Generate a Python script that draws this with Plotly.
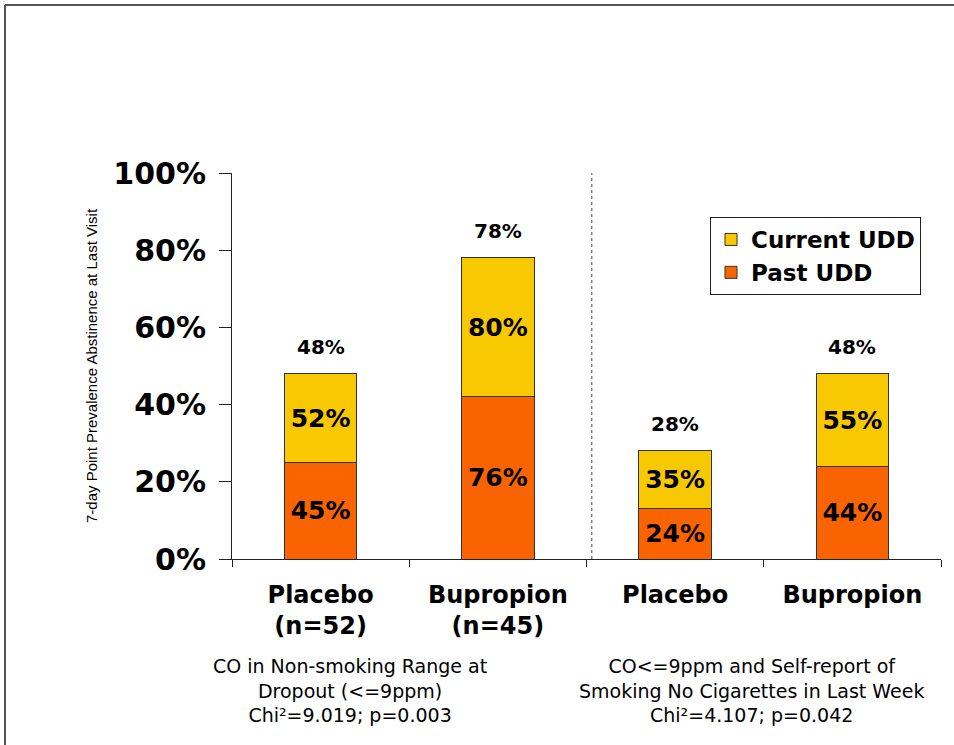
import plotly.graph_objects as go

# ---------------- data ----------------
categories = ["Placebo<br>(n=52)", "Bupropion<br>(n=45)", "Placebo", "Bupropion"]
past_udd = [25, 42, 13, 24]          # bottom (orange) segment height, %
current_udd = [23, 36, 15, 24]       # top (yellow) segment height, %
past_labels = ["45%", "76%", "24%", "44%"]
current_labels = ["52%", "80%", "35%", "55%"]
total_labels = ["48%", "78%", "28%", "48%"]
y_tick_vals = [0, 20, 40, 60, 80, 100]
y_tick_text = ["0%", "20%", "40%", "60%", "80%", "100%"]
group_notes = [
    "CO in Non-smoking Range at<br>Dropout (&lt;=9ppm)<br>Chi²=9.019; p=0.003",
    "CO&lt;=9ppm and Self-report of<br>Smoking No Cigarettes in Last Week<br>Chi²=4.107; p=0.042",
]
series_names = ["Past UDD", "Current UDD"]

# ---------------- style ----------------
W, H = 954, 745
L, R, T, B = 232, 941, 173, 559   # plot area in px
ORANGE = "#FA6400"
YELLOW = "#F8C800"
BOLD = "DejaVu Sans"


def px_x(px):
    return (px - L) / (R - L)


def px_y(py):
    return (B - py) / (B - T)


fig = go.Figure()
fig.add_trace(go.Bar(
    x=categories, y=past_udd, name=series_names[0],
    marker=dict(color=ORANGE, line=dict(color="#333333", width=1)),
    width=0.41, text=past_labels, textposition="inside",
    insidetextanchor="middle", textangle=0,
    textfont=dict(family=BOLD, size=25, color="black", weight="bold"),
    hoverinfo="skip",
))
fig.add_trace(go.Bar(
    x=categories, y=current_udd, name=series_names[1],
    marker=dict(color=YELLOW, line=dict(color="#333333", width=1)),
    width=0.41, text=current_labels, textposition="inside",
    insidetextanchor="middle", textangle=0,
    textfont=dict(family=BOLD, size=25, color="black", weight="bold"),
    hoverinfo="skip",
))

# totals above the bars
for cat, p, c, lab in zip(categories, past_udd, current_udd, total_labels):
    fig.add_annotation(x=cat, y=p + c, text=lab, showarrow=False,
                       yanchor="bottom", yshift=13,
                       font=dict(family=BOLD, size=20, color="black", weight="bold"))

# group notes under the axis
note_x = [px_x(350), px_x(751)]
for nx, note in zip(note_x, group_notes):
    fig.add_annotation(x=nx, y=px_y(690), xref="paper", yref="paper",
                       text=note, showarrow=False, xanchor="center", yanchor="middle",
                       align="center",
                       font=dict(family="DejaVu Sans", size=19, color="black"))

# dotted separator
fig.add_shape(type="line", xref="x", yref="y", x0=1.53, x1=1.53, y0=0, y1=100,
              line=dict(color="#444444", width=1, dash="dot"))

# outer frame (top and left edges)
fig.add_shape(type="line", xref="paper", yref="paper",
              x0=px_x(5), x1=px_x(960), y0=px_y(5), y1=px_y(5),
              line=dict(color="#555555", width=2))
fig.add_shape(type="line", xref="paper", yref="paper",
              x0=px_x(5), x1=px_x(5), y0=px_y(5), y1=px_y(760),
              line=dict(color="#555555", width=2))

fig.update_layout(
    width=W, height=H,
    margin=dict(l=L, r=W - R, t=T, b=H - B, pad=0),
    paper_bgcolor="white", plot_bgcolor="white",
    barmode="stack",
    showlegend=True,
    legend=dict(
        x=px_x(710), y=px_y(217), xanchor="left", yanchor="top",
        traceorder="reversed",
        bordercolor="#222222", borderwidth=1, bgcolor="white",
        font=dict(family=BOLD, size=23, color="black", weight="bold"),
    ),
    xaxis=dict(
        type="category", range=[-0.5, 3.5], fixedrange=True,
        showline=True, linecolor="#222222", linewidth=1,
        ticks="outside", ticklen=7, tickcolor="#222222", tickson="boundaries",
        tickfont=dict(family=BOLD, size=24, color="black", weight="bold"),
        ticklabelstandoff=14,
        showgrid=False, zeroline=False,
    ),
    yaxis=dict(
        range=[0, 100], tickvals=y_tick_vals, ticktext=y_tick_text,
        showline=True, linecolor="#222222", linewidth=1,
        ticks="outside", ticklen=12, tickcolor="#222222",
        tickfont=dict(family=BOLD, size=30, color="black", weight="bold"),
        ticklabelstandoff=7,
        showgrid=False, zeroline=False,
        title=dict(text="7-day Point Prevalence Abstinence at Last Visit",
                   font=dict(family="Liberation Sans", size=15, color="black"),
                   standoff=12),
    ),
    uniformtext=dict(minsize=25, mode="show"),
)

fig.write_html("out.html")
